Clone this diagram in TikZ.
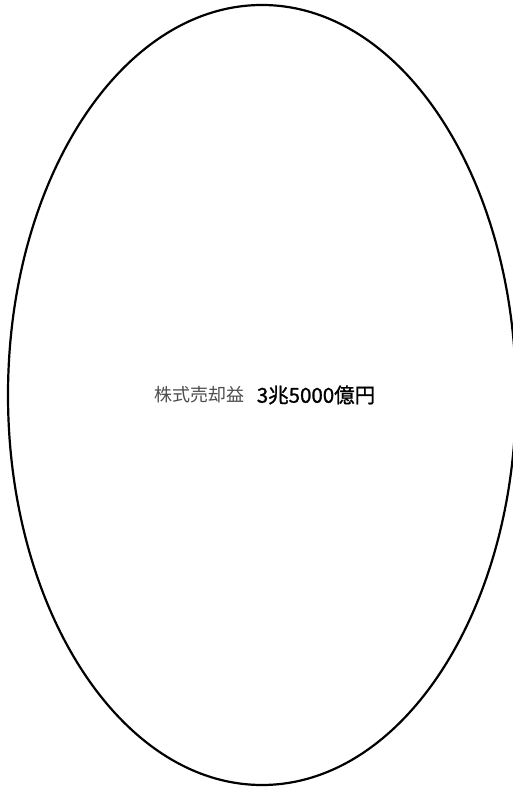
\documentclass[tikz,border=0pt]{standalone}
\usepackage{fontspec}
\newfontfamily\cjk{Noto Sans CJK JP}
\newfontfamily\cjkb[FakeBold=1.2]{Noto Sans CJK JP}
\tikzset{
  outline/.style={line width=2.2pt, draw=black},
  labeltxt/.style={font=\cjk\fontsize{18}{20}\selectfont, text=black!70, inner sep=0pt},
  valuetxt/.style={font=\cjkb\fontsize{20.5}{23}\selectfont, text=black, inner sep=0pt}
}
\begin{document}
\begin{tikzpicture}[x=1pt,y=1pt]
\useasboundingbox (0,0) rectangle (513,787);
\begin{scope}
\clip (0,0) rectangle (513,787);
\draw[outline] (262,392) ellipse [x radius=254, y radius=390];
\end{scope}
\node[labeltxt] (lab) at (199,392) {株式売却益};
\node[valuetxt] (val) at (316,392) {3兆5000億円};
\end{tikzpicture}
\end{document}
